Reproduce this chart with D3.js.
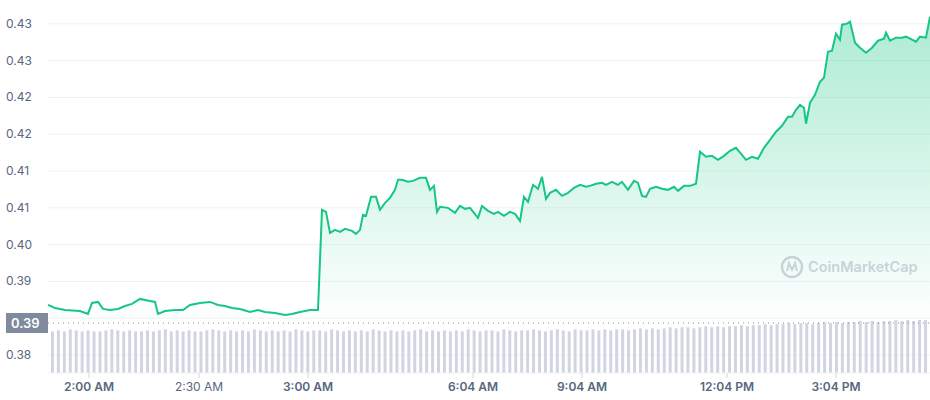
<!DOCTYPE html>
<html><head><meta charset="utf-8">
<script src="https://cdn.jsdelivr.net/npm/d3@7"></script>
<style>body{margin:0;background:#fff;font-family:Inter,"Noto Sans",sans-serif}</style>
</head><body><svg id="c" width="930" height="400"></svg>
<script>
// time in chart minutes from left edge, price in USD
var times = [0,7,17,32,40,44,50,55,62,70,77,84,92,102,107,110,117,127,135,142,152,162,170,177,184,192,202,210,217,227,237,244,252,262,270,274,278,282,287,292,297,304,308,312,315,318,323,328,332,337,342,347,350,354,360,365,372,378,382,386,389,392,400,407,412,417,422,430,434,440,446,450,456,462,467,472,476,480,485,490,494,498,502,508,514,520,526,532,538,542,548,554,558,564,570,574,580,586,590,594,598,602,608,614,620,626,630,636,642,648,652,658,664,670,676,682,688,694,698,704,710,716,722,728,734,740,744,748,752,756,758,762,767,772,776,780,784,788,792,794,799,802,807,812,818,824,830,836,838,842,848,854,858,864,868,872,878,882];
var prices = [.3868,.38639,.38612,.38598,.38558,.38707,.38721,.38626,.38612,.38626,.38666,.38694,.38762,.38734,.38721,.38558,.38598,.38612,.38612,.3868,.38707,.38721,.3868,.38666,.38639,.38626,.38585,.38612,.38585,.38571,.38544,.38558,.38585,.38612,.38612,.39972,.39945,.39659,.397,.39673,.39714,.39686,.39646,.397,.39904,.3989,.40149,.40149,.39972,.40067,.40135,.40244,.4038,.4038,.40353,.40366,.40407,.40407,.40244,.40298,.39945,.40013,.39999,.39931,.40026,.39986,.39999,.39863,.40026,.39958,.39918,.39945,.3989,.39945,.39918,.39822,.40149,.40081,.40312,.40258,.40421,.40122,.40203,.40244,.40162,.40203,.40271,.40312,.40285,.40298,.40326,.40339,.40312,.40353,.40312,.40353,.40244,.40366,.40339,.40162,.40149,.40258,.40285,.40258,.40244,.40285,.4023,.40298,.40298,.40326,.40761,.40693,.40706,.40652,.40706,.40774,.40815,.4072,.40652,.40693,.40666,.40815,.40924,.41033,.41114,.41237,.41237,.41332,.414,.41359,.41142,.41427,.41536,.41713,.41767,.42121,.42134,.42366,.42284,.42488,.42502,.42529,.42243,.42175,.42107,.42175,.4227,.42298,.42379,.4227,.42311,.42311,.42325,.42284,.42257,.42325,.42311,.42597];
var volumes = [40,41,40,42,41,40,41,40,40,41,42,41,40,41,40,40,41,40,41,42,40,41,40,41,40,40,41,42,41,40,41,40,41,40,42,41,40,41,40,41,40,42,41,40,41,41,40,42,41,40,41,40,41,40,42,41,40,41,40,41,40,41,42,40,41,40,41,40,41,40,42,41,40,41,41,40,42,41,40,41,41,42,41,40,41,42,41,40,42,41,41,42,41,42,41,42,42,41,42,43,42,43,42,43,44,43,44,44,43,44,45,44,45,44,45,45,46,45,46,46,47,46,47,47,48,47,48,48,47,48,49,48,49,48,49,49,50,49,50,49,50,50,51,50,51,50,51,51];
var openPrice = 0.38435;
var yTicks = [0.38,0.385,0.39,0.395,0.40,0.405,0.41,0.415,0.42,0.425];
var yLabels = ["0.38","0.39","0.39","0.40","0.41","0.41","0.42","0.42","0.43","0.43"];
var xTicks = [41,151,260,425,534,679,788];
var xLabels = ["2:00 AM","2:30 AM","3:00 AM","6:04 AM","9:04 AM","12:04 PM","3:04 PM"];

var svg = d3.select('#c');
var left = 48, right = 930, bottom = 373;
var x = d3.scaleLinear().domain([0, 882]).range([left, right]);
var y = d3.scaleLinear().domain([0.38, 0.43]).range([355, -13]);
var xv = d3.scaleBand().domain(d3.range(volumes.length)).range([left, right]).padding(0.5);
var yv = d3.scaleLinear().domain([0, 51]).range([bottom, 320]);

// grid
svg.append('g').selectAll('line').data(yTicks).enter().append('line')
  .attr('x1', left).attr('x2', right)
  .attr('y1', function(d) { return y(d); }).attr('y2', function(d) { return y(d); })
  .attr('stroke', '#eff2f5');

// volume
svg.append('g').selectAll('rect').data(volumes).enter().append('rect')
  .attr('x', function(d, i) { return xv(i); })
  .attr('width', xv.bandwidth())
  .attr('y', function(d) { return yv(d); })
  .attr('height', function(d) { return bottom - yv(d); })
  .attr('fill', '#d1d5e1');

var grad = svg.append('defs').append('linearGradient').attr('id', 'g')
  .attr('x1', 0).attr('x2', 0).attr('y1', 0).attr('y2', 1);
grad.append('stop').attr('offset', '0%').attr('stop-color', '#16c784').attr('stop-opacity', 0.35);
grad.append('stop').attr('offset', '100%').attr('stop-color', '#16c784').attr('stop-opacity', 0);

var pts = times.map(function(t, i) { return [t, prices[i]]; });
var area = d3.area().x(function(d) { return x(d[0]); })
  .y0(y(openPrice)).y1(function(d) { return y(d[1]); });
var line = d3.line().x(function(d) { return x(d[0]); }).y(function(d) { return y(d[1]); });

svg.append('path').datum(pts).attr('d', area).attr('fill', 'url(#g)');

// open price dotted line
svg.append('line').attr('x1', left).attr('x2', right)
  .attr('y1', y(openPrice)).attr('y2', y(openPrice))
  .attr('stroke', '#808a9d').attr('stroke-dasharray', '1,4');

svg.append('path').datum(pts).attr('d', line)
  .attr('fill', 'none').attr('stroke', '#16c784').attr('stroke-width', 2);

// y labels (the one under the badge is hidden by it)
svg.append('g').selectAll('text').data(yTicks).enter().append('text')
  .filter(function(d, i) { return i !== 1; })
  .attr('x', 6).attr('y', function(d) { return y(d) + 4; })
  .attr('font-size', 12).attr('fill', '#58667e')
  .text(function(d) { return yLabels[yTicks.indexOf(d)]; });

// open price badge
svg.append('rect').attr('x', 6).attr('y', y(openPrice) - 10).attr('width', 42).attr('height', 20)
  .attr('fill', '#808a9d');
svg.append('text').attr('x', 11).attr('y', y(openPrice) + 5)
  .attr('font-size', 13).attr('font-weight', 600).attr('fill', '#fff').text('0.39');

// x axis
svg.append('line').attr('x1', left).attr('x2', right).attr('y1', bottom).attr('y2', bottom)
  .attr('stroke', '#eff2f5');
var xt = svg.append('g').selectAll('g').data(xTicks).enter().append('g')
  .attr('transform', function(d) { return 'translate(' + x(d) + ',0)'; });
xt.append('line').attr('y1', bottom).attr('y2', bottom + 5).attr('stroke', '#cfd6e4');
xt.append('text').attr('y', 391).attr('text-anchor', 'middle')
  .attr('font-size', 12).attr('fill', '#58667e')
  .attr('font-weight', function(d, i) { return i === 1 ? 400 : 600; })
  .text(function(d, i) { return xLabels[i]; });

// watermark
var wm = svg.append('g').attr('transform', 'translate(792,267)').attr('opacity', 0.35);
wm.append('circle').attr('r', 10).attr('fill', 'none').attr('stroke', '#808a9d').attr('stroke-width', 2.5);
wm.append('path').attr('d', 'M-5,4 L-3,-4 L0,3 L3,-4 L5,4').attr('fill', 'none')
  .attr('stroke', '#808a9d').attr('stroke-width', 2);
wm.append('text').attr('x', 16).attr('y', 5).attr('font-size', 14.5).attr('font-weight', 600)
  .attr('fill', '#808a9d').text('CoinMarketCap');
</script></body></html>
